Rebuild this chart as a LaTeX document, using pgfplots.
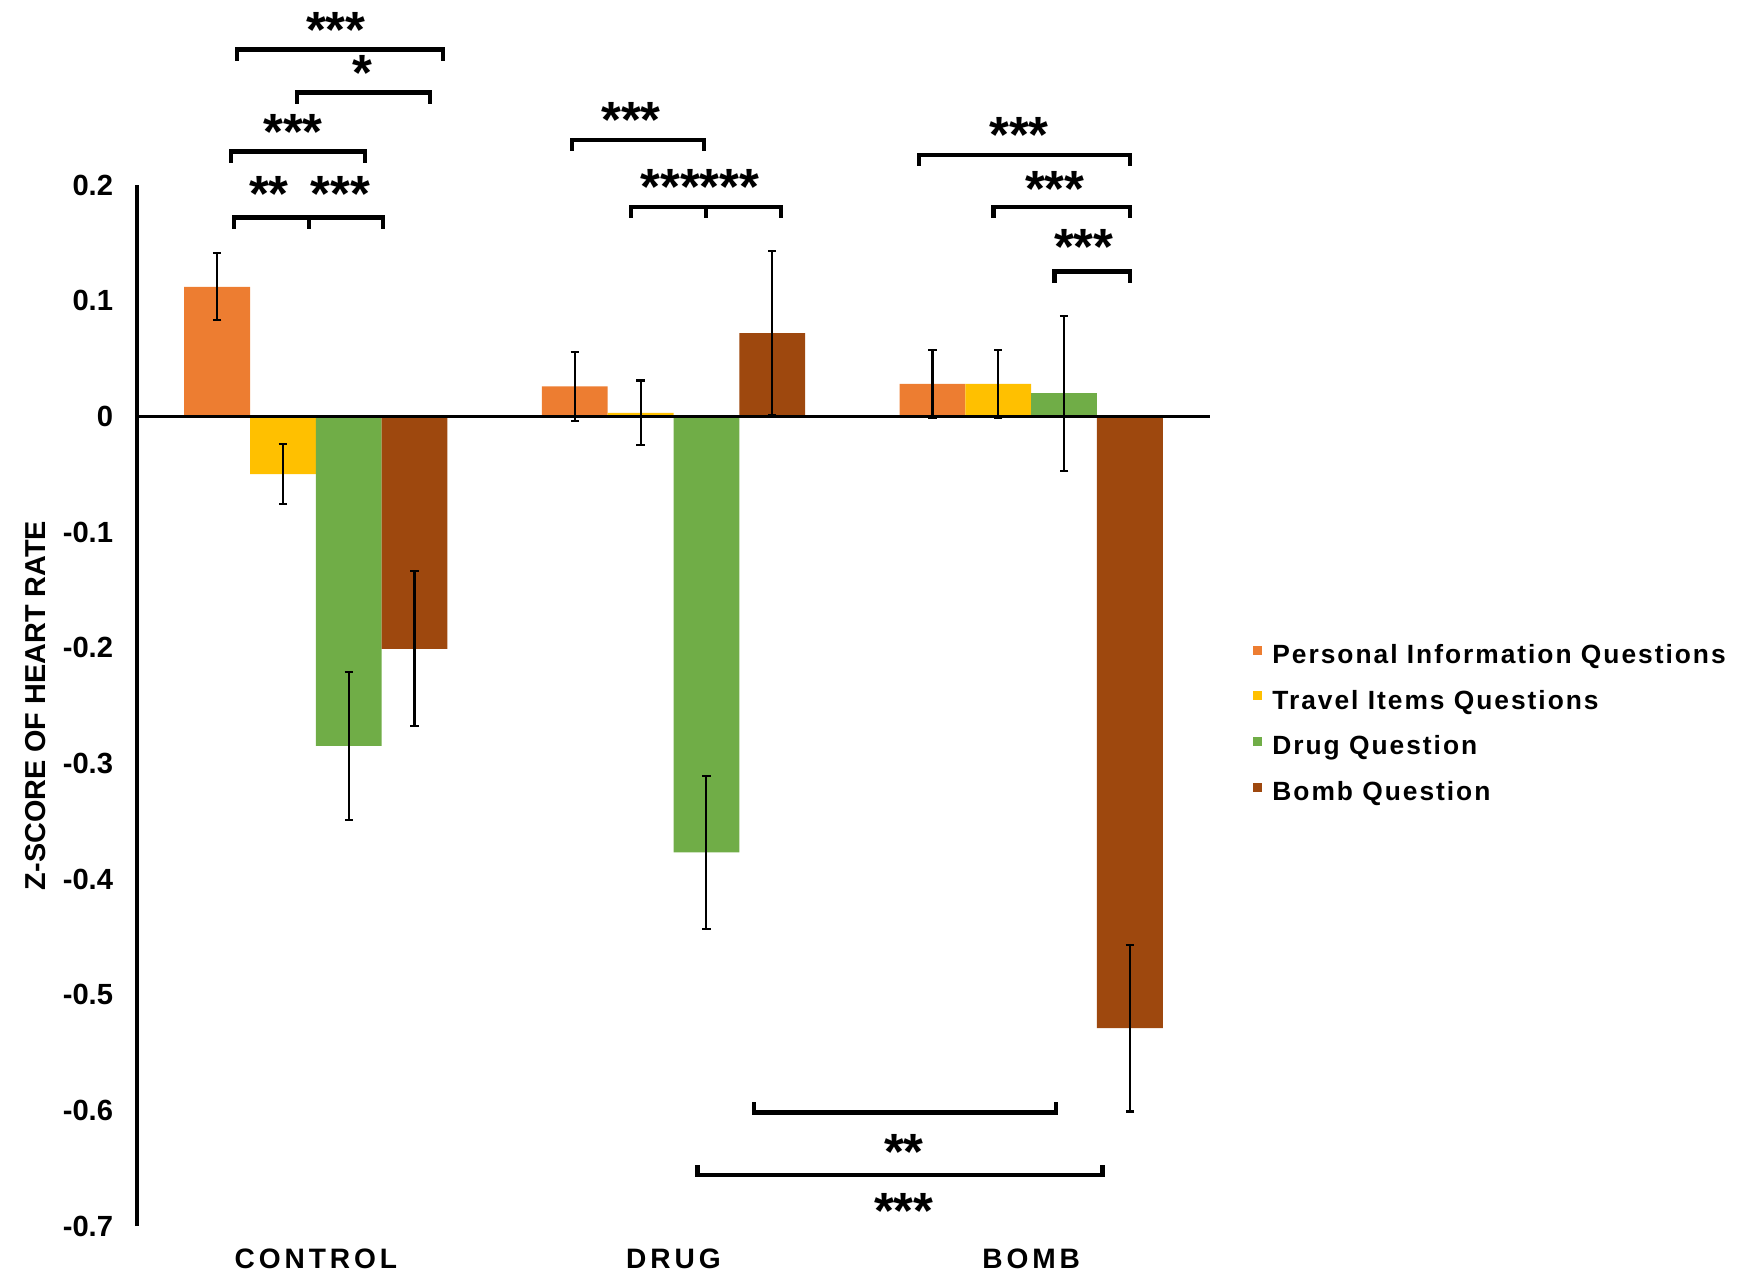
\documentclass[border=0pt]{standalone}
\usepackage{fontspec}
\setmainfont{Liberation Sans}
\newfontfamily\spaced{Liberation Sans}[LetterSpace=14]
\newfontfamily\legfont{Liberation Sans}[LetterSpace=7.5]
\usepackage{pgfplots}
\pgfplotsset{compat=1.18}
\definecolor{cPI}{HTML}{ED7D31}
\definecolor{cTI}{HTML}{FFC000}
\definecolor{cDQ}{HTML}{70AD47}
\definecolor{cBQ}{HTML}{9E480E}
\tikzset{brk/.style={line width=1.3pt, line join=miter, line cap=rect}}
\newcommand{\brkdown}[3]{\draw[brk] ([yshift=-0.09cm]axis cs:#1,#3) -- (axis cs:#1,#3) -- (axis cs:#2,#3) -- ([yshift=-0.09cm]axis cs:#2,#3);}
\newcommand{\brkup}[3]{\draw[brk] ([yshift=0.08cm]axis cs:#1,#3) -- (axis cs:#1,#3) -- (axis cs:#2,#3) -- ([yshift=0.08cm]axis cs:#2,#3);}
\newcommand{\stars}[3]{\node[anchor=base, inner sep=0pt, text height=0.75em, text depth=0pt, font=\fontsize{14.5}{16}\selectfont\bfseries] at (axis cs:#1,#2) {#3};}
\begin{document}
\begin{tikzpicture}
\path[use as bounding box] (-1.37cm,-0.47cm) rectangle (16.13cm,12.26cm);
\begin{axis}[
  at={(0,0)}, anchor=south west,
  scale only axis, width=10.73cm, height=10.41cm,
  xmin=-0.5, xmax=2.5, ymin=-0.7, ymax=0.2,
  enlargelimits=false, clip=false,
  ybar=0pt, bar width=0.184,
  axis y line=left, axis x line=bottom,
  y axis line style={-, line width=1pt},
  x axis line style={draw=none},
  xtick={0,1,2}, xticklabels={CONTROL,DRUG,BOMB},
  ytick={-0.7,-0.6,-0.5,-0.4,-0.3,-0.2,-0.1,0,0.1,0.2},
  yticklabels={-0.7,-0.6,-0.5,-0.4,-0.3,-0.2,-0.1,0,0.1,0.2},
  major tick length=0pt,
  xticklabel style={font=\fontsize{8}{9}\selectfont\bfseries\spaced, yshift=-0.1cm},
  yticklabel style={font=\fontsize{8.3}{9}\selectfont\bfseries, xshift=-0.115cm},
  ylabel={Z-SCORE OF HEART RATE},
  every axis y label/.style={at={(axis description cs:-0.0941,0.5)}, rotate=90, anchor=center, font=\fontsize{8.2}{9}\selectfont\bfseries},
  legend cell align=left,
  legend image code/.code={\fill[#1,draw=none] (0cm,0.015cm) rectangle (0.09cm,0.105cm);},
  legend style={at={(1.030,0.568)}, anchor=north west, draw=none, fill=none,
    font=\fontsize{7.5}{9}\selectfont\bfseries\legfont,
    row sep=5.2pt, column sep=0.1cm,
    nodes={inner sep=0pt, text height=6pt, text depth=1.8pt}},
  error bars/y dir=both, error bars/y explicit,
  error bars/error bar style={line width=0.6pt, black},
  error bars/error mark options={rotate=90, black, mark size=1.2pt, line width=0.6pt},
]
\addplot[fill=cPI, draw=none] coordinates {(0,0.112) +- (0,0.029) (1,0.026) +- (0,0.030) (2,0.028) +- (0,0.029)};
\addplot[fill=cTI, draw=none] coordinates {(0,-0.050) +- (0,0.026) (1,0.003) +- (0,0.028) (2,0.028) +- (0,0.029)};
\addplot[fill=cDQ, draw=none] coordinates {(0,-0.285) +- (0,0.064) (1,-0.377) +- (0,0.066) (2,0.020) +- (0,0.067)};
\addplot[fill=cBQ, draw=none] coordinates {(0,-0.201) +- (0,0.067) (1,0.072) +- (0,0.071) (2,-0.529) +- (0,0.072)};
\legend{Personal Information Questions, Travel Items Questions, Drug Question, Bomb Question}
\draw[line width=1pt] (axis cs:-0.5,0) -- (axis cs:2.5,0);
% CONTROL
\brkdown{-0.220}{0.355}{0.317}
\stars{0.056}{0.319}{***}
\brkdown{-0.053}{0.319}{0.280}
\stars{0.129}{0.282}{*}
\brkdown{-0.237}{0.137}{0.229}
\stars{-0.064}{0.231}{***}
\brkdown{-0.229}{0.188}{0.172}
\draw[brk] (axis cs:-0.019,0.172) -- ([yshift=-0.09cm]axis cs:-0.019,0.172);
\stars{-0.131}{0.177}{**}
\stars{0.068}{0.177}{***}
% DRUG
\brkdown{0.716}{1.085}{0.239}
\stars{0.881}{0.241}{***}
\brkdown{0.881}{1.300}{0.181}
\draw[brk] (axis cs:1.091,0.181) -- ([yshift=-0.09cm]axis cs:1.091,0.181);
\stars{1.074}{0.183}{******}
% BOMB
\brkdown{1.686}{2.276}{0.226}
\stars{1.966}{0.228}{***}
\brkdown{1.894}{2.276}{0.181}
\stars{2.066}{0.181}{***}
\brkdown{2.066}{2.276}{0.125}
\stars{2.147}{0.131}{***}
% bottom
\brkup{1.225}{2.069}{-0.602}
\stars{1.644}{-0.651}{**}
\brkup{1.067}{2.200}{-0.656}
\stars{1.644}{-0.702}{***}
\end{axis}
\end{tikzpicture}
\end{document}
